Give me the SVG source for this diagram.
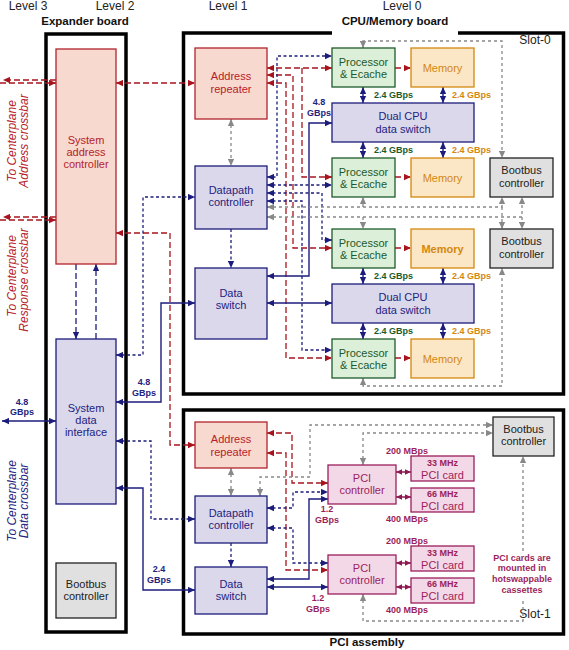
<svg xmlns="http://www.w3.org/2000/svg" width="569" height="650" viewBox="0 0 569 650">
<defs>
<style>
text{font-family:"Liberation Sans",Arial,Helvetica,sans-serif}
.lbl{font-size:11px;text-anchor:middle}
.ttl{font-size:11.5px;font-weight:bold;text-anchor:middle;fill:#111}
.hd{font-size:12px;text-anchor:middle;fill:#222}
.sm{font-size:9px;font-weight:bold;text-anchor:middle}
.sl{font-size:9px;font-weight:bold;text-anchor:start}
.rot{font-size:12px;font-style:italic;text-anchor:middle}
.board{fill:none;stroke:#000;stroke-width:3.5}
.ra{fill:#f8d9d0;stroke:#b0242c;stroke-width:1.3}
.nv{fill:#dcd8ec;stroke:#1c1c7c;stroke-width:1.3}
.gr{fill:#dcefd8;stroke:#1d5a2b;stroke-width:1.3}
.mem{fill:#fbe6c6;stroke:#d4880f;stroke-width:1.3}
.pci{fill:#f3d8e7;stroke:#9b1f5c;stroke-width:1.3}
.bb{fill:#e0e0e0;stroke:#222;stroke-width:1.3}
.tr{fill:#b5222b}.tn{fill:#23237f}.tg{fill:#1d5a2b}.to{fill:#d4880f}.tk{fill:#222}.tm{fill:#9b1f5c}
.cr{fill:none;stroke:#a8141e;stroke-width:1.3;stroke-dasharray:6 3}
.cnd{fill:none;stroke:#1c1c7c;stroke-width:1.3;stroke-dasharray:3 2.5}
.cnD{fill:none;stroke:#1c1c7c;stroke-width:1.3;stroke-dasharray:6 3}
.cn{fill:none;stroke:#1c1c7c;stroke-width:1.4}
.cg{fill:none;stroke:#888;stroke-width:1.3;stroke-dasharray:3 3}
.cm{fill:none;stroke:#8c1a52;stroke-width:1.5}
</style>
<marker id="aR" viewBox="0 0 10 10" refX="10" refY="5" markerWidth="7" markerHeight="7" markerUnits="userSpaceOnUse" orient="auto-start-reverse"><path d="M0,0.5L10,5L0,9.5z" fill="#a8141e"/></marker>
<marker id="aN" viewBox="0 0 10 10" refX="10" refY="5" markerWidth="7" markerHeight="7" markerUnits="userSpaceOnUse" orient="auto-start-reverse"><path d="M0,0.5L10,5L0,9.5z" fill="#1c1c7c"/></marker>
<marker id="aG" viewBox="0 0 10 10" refX="10" refY="5" markerWidth="7" markerHeight="7" markerUnits="userSpaceOnUse" orient="auto-start-reverse"><path d="M0,0.5L10,5L0,9.5z" fill="#888"/></marker>
<marker id="aM" viewBox="0 0 10 10" refX="10" refY="5" markerWidth="6" markerHeight="6" markerUnits="userSpaceOnUse" orient="auto-start-reverse"><path d="M0,0.5L10,5L0,9.5z" fill="#8c1a52"/></marker>
</defs>
<rect width="569" height="650" fill="#fff"/>

<g id="headers">
<text class="hd" x="28" y="9.5">Level 3</text>
<text class="hd" x="115" y="9.5">Level 2</text>
<text class="hd" x="228" y="9.5">Level 1</text>
<text class="hd" x="402" y="9.5">Level 0</text>
<text class="ttl" x="85" y="25">Expander board</text>
<text class="ttl" x="395" y="25">CPU/Memory board</text>
<text class="ttl" x="367" y="646">PCI assembly</text>
<text class="hd" x="535" y="43.5">Slot-0</text>
<text class="hd" x="535" y="617.5">Slot-1</text>
<text class="rot tr" transform="translate(16,141) rotate(-90)">To Centerplane</text>
<text class="rot tr" transform="translate(27.5,141) rotate(-90)">Address crossbar</text>
<text class="rot tr" transform="translate(16,276) rotate(-90)">To Centerplane</text>
<text class="rot tr" transform="translate(27.5,280) rotate(-90)">Response crossbar</text>
<text class="rot tn" transform="translate(16,501) rotate(-90)">To Centerplane</text>
<text class="rot tn" transform="translate(27.5,501) rotate(-90)">Data crossbar</text>
</g>

<g id="boards">
<rect class="board" x="46" y="34" width="80" height="598"/>
<path class="board" d="M332,33H183.5V394H563.5V33H458"/>
<rect class="board" x="183.5" y="410" width="380" height="224"/>
</g>

<g id="connectors">
<path class="cr" d="M56,80H3" marker-end="url(#aR)"/>
<path class="cr" d="M0,83H56" marker-end="url(#aR)"/>
<path class="cr" d="M56,217H3" marker-end="url(#aR)"/>
<path class="cr" d="M0,220H56" marker-end="url(#aR)"/>
<path class="cr" d="M116,83H195" marker-start="url(#aR)" marker-end="url(#aR)"/>
<path class="cr" d="M116,233H170V445H195" marker-start="url(#aR)" marker-end="url(#aR)"/>
<path class="cnD" d="M76,264V339" marker-end="url(#aN)"/>
<path class="cnD" d="M96,339V264" marker-end="url(#aN)"/>
<path class="cnd" d="M116,355H143V197H195" marker-start="url(#aN)" marker-end="url(#aN)"/>
<path class="cn" d="M116,402H161V303H195" marker-start="url(#aN)" marker-end="url(#aN)"/>
<path class="cn" d="M2,421H56" marker-start="url(#aN)" marker-end="url(#aN)"/>
<path class="cnd" d="M116,441H151V519H195" marker-start="url(#aN)" marker-end="url(#aN)"/>
<path class="cn" d="M116,488H143V590H195" marker-start="url(#aN)" marker-end="url(#aN)"/>

<path class="cg" d="M231,119V166" marker-start="url(#aG)" marker-end="url(#aG)"/>
<path class="cnd" d="M231,229V268" marker-end="url(#aN)"/>
<path class="cr" d="M267,68H332" marker-start="url(#aR)" marker-end="url(#aR)"/>
<path class="cr" d="M302,68V177H332" marker-end="url(#aR)"/>
<path class="cr" d="M267,75H293V248H332" marker-start="url(#aR)" marker-end="url(#aR)"/>
<path class="cr" d="M267,83H286V358H332" marker-start="url(#aR)" marker-end="url(#aR)"/>
<path class="cnd" d="M267,177H277V56H332" marker-start="url(#aN)" marker-end="url(#aN)"/>
<path class="cnd" d="M267,185H332" marker-start="url(#aN)" marker-end="url(#aN)"/>
<path class="cnd" d="M267,193H322V240H332" marker-start="url(#aN)" marker-end="url(#aN)"/>
<path class="cnd" d="M267,201H302V350H332" marker-start="url(#aN)" marker-end="url(#aN)"/>
<path class="cn" d="M267,276H309V123H332" marker-start="url(#aN)" marker-end="url(#aN)"/>
<path class="cn" d="M267,303H332" marker-start="url(#aN)" marker-end="url(#aN)"/>
<path class="cg" d="M363,48V41H502V158" marker-start="url(#aG)" marker-end="url(#aG)"/>
<path class="cg" d="M267,207H502V197" marker-start="url(#aG)" marker-end="url(#aG)"/>
<path class="cg" d="M363,207V197" marker-end="url(#aG)"/>
<path class="cg" d="M502,207V229" marker-end="url(#aG)"/>
<path class="cg" d="M267,217H522V197" marker-start="url(#aG)" marker-end="url(#aG)"/>
<path class="cg" d="M522,217V229" marker-end="url(#aG)"/>
<path class="cg" d="M363,217V229" marker-end="url(#aG)"/>
<path class="cg" d="M363,378V386H502V268" marker-start="url(#aG)" marker-end="url(#aG)"/>
<path class="cr" d="M395,68H411" marker-end="url(#aR)"/>
<path class="cr" d="M395,177H411" marker-end="url(#aR)"/>
<path class="cr" d="M395,248H411" marker-end="url(#aR)"/>
<path class="cr" d="M395,358H411" marker-end="url(#aR)"/>
<path class="cn" d="M363,87V103" marker-start="url(#aN)" marker-end="url(#aN)"/>
<path class="cn" d="M363,142V158" marker-start="url(#aN)" marker-end="url(#aN)"/>
<path class="cn" d="M363,268V284" marker-start="url(#aN)" marker-end="url(#aN)"/>
<path class="cn" d="M363,323V339" marker-start="url(#aN)" marker-end="url(#aN)"/>
<path class="cn" d="M443,87V103" marker-start="url(#aN)" marker-end="url(#aN)"/>
<path class="cn" d="M443,142V158" marker-start="url(#aN)" marker-end="url(#aN)"/>
<path class="cn" d="M443,268V284" marker-start="url(#aN)" marker-end="url(#aN)"/>
<path class="cn" d="M443,323V339" marker-start="url(#aN)" marker-end="url(#aN)"/>

<path class="cg" d="M231,468V496" marker-start="url(#aG)" marker-end="url(#aG)"/>
<path class="cnd" d="M231,543V567" marker-end="url(#aN)"/>
<path class="cr" d="M267,433H292V483H328" marker-start="url(#aR)" marker-end="url(#aR)"/>
<path class="cr" d="M267,453H286V570H328" marker-start="url(#aR)" marker-end="url(#aR)"/>
<path class="cnd" d="M267,508H293V492H328" marker-start="url(#aN)" marker-end="url(#aN)"/>
<path class="cnd" d="M267,528H293V563H328" marker-start="url(#aN)" marker-end="url(#aN)"/>
<path class="cn" d="M267,579H309V499H328" marker-start="url(#aN)" marker-end="url(#aN)"/>
<path class="cn" d="M267,587H328" marker-start="url(#aN)" marker-end="url(#aN)"/>
<path class="cg" d="M260,496V477H310V425H493" marker-start="url(#aG)" marker-end="url(#aG)"/>
<path class="cg" d="M363,465V433H493" marker-start="url(#aG)" marker-end="url(#aG)"/>
<path class="cg" d="M363,594V621H523V598M523,551V456" marker-start="url(#aG)" marker-end="url(#aG)"/>
<path class="cm" d="M396,472H411" marker-start="url(#aM)" marker-end="url(#aM)"/>
<path class="cm" d="M396,497H411" marker-start="url(#aM)" marker-end="url(#aM)"/>
<path class="cm" d="M396,563H411" marker-start="url(#aM)" marker-end="url(#aM)"/>
<path class="cm" d="M396,587H411" marker-start="url(#aM)" marker-end="url(#aM)"/>
</g>

<g id="labels">
<text class="sm tn" x="22" y="404.5">4.8</text><text class="sm tn" x="22" y="415">GBps</text>
<text class="sm tn" x="144" y="385">4.8</text><text class="sm tn" x="144" y="395.5">GBps</text>
<text class="sm tn" x="319" y="105">4.8</text><text class="sm tn" x="319" y="115.5">GBps</text>
<text class="sm tn" x="159" y="571.5">2.4</text><text class="sm tn" x="159" y="582.5">GBps</text>
<text class="sl tg" x="374" y="98">2.4 GBps</text><text class="sl to" x="452" y="98">2.4 GBps</text>
<text class="sl tg" x="374" y="153">2.4 GBps</text><text class="sl to" x="452" y="153">2.4 GBps</text>
<text class="sl tg" x="374" y="278.5">2.4 GBps</text><text class="sl to" x="452" y="278.5">2.4 GBps</text>
<text class="sl tg" x="374" y="333.5">2.4 GBps</text><text class="sl to" x="452" y="333.5">2.4 GBps</text>
<text class="sm tm" x="327" y="511.5">1.2</text><text class="sm tm" x="327" y="522.5">GBps</text>
<text class="sm tm" x="318" y="600.5">1.2</text><text class="sm tm" x="318" y="611.5">GBps</text>
<text class="sm tm" x="407" y="453.5">200 MBps</text>
<text class="sm tm" x="407" y="522">400 MBps</text>
<text class="sm tm" x="407" y="544">200 MBps</text>
<text class="sm tm" x="407" y="612.5">400 MBps</text>
<text class="sm tm" x="522" y="560.5">PCI cards are</text>
<text class="sm tm" x="522" y="571.3">mounted in</text>
<text class="sm tm" x="522" y="582.1">hotswappable</text>
<text class="sm tm" x="522" y="592.9">cassettes</text>
</g>

<g id="sys-address-controller"><rect class="ra" x="56" y="49" width="60" height="215"/>
<text class="lbl tr" x="86" y="143.6">System</text><text class="lbl tr" x="86" y="156">address</text><text class="lbl tr" x="86" y="168.4">controller</text></g>
<g id="sys-data-interface"><rect class="nv" x="56" y="339" width="60" height="165"/>
<text class="lbl tn" x="86" y="411.6">System</text><text class="lbl tn" x="86" y="424">data</text><text class="lbl tn" x="86" y="436.4">interface</text></g>
<g id="exp-bootbus"><rect class="bb" x="56" y="563" width="60" height="55"/>
<text class="lbl tk" x="86" y="587.8">Bootbus</text><text class="lbl tk" x="86" y="600.2">controller</text></g>

<g id="cpu-address-repeater"><rect class="ra" x="195" y="48" width="72" height="71"/>
<text class="lbl tr" x="231" y="80.3">Address</text><text class="lbl tr" x="231" y="92.7">repeater</text></g>
<g id="cpu-datapath-controller"><rect class="nv" x="195" y="166" width="72" height="63"/>
<text class="lbl tn" x="231" y="193.8">Datapath</text><text class="lbl tn" x="231" y="206.2">controller</text></g>
<g id="cpu-data-switch"><rect class="nv" x="195" y="268" width="72" height="71"/>
<text class="lbl tn" x="231" y="296.8">Data</text><text class="lbl tn" x="231" y="309.2">switch</text></g>
<g id="proc1"><rect class="gr" x="332" y="48" width="63" height="39"/>
<text class="lbl tg" x="363.5" y="65.6">Processor</text><text class="lbl tg" x="363.5" y="78">&amp; Ecache</text></g>
<g id="proc2"><rect class="gr" x="332" y="158" width="63" height="39"/>
<text class="lbl tg" x="363.5" y="175.6">Processor</text><text class="lbl tg" x="363.5" y="188">&amp; Ecache</text></g>
<g id="proc3"><rect class="gr" x="332" y="229" width="63" height="39"/>
<text class="lbl tg" x="363.5" y="246.6">Processor</text><text class="lbl tg" x="363.5" y="259">&amp; Ecache</text></g>
<g id="proc4"><rect class="gr" x="332" y="339" width="63" height="39"/>
<text class="lbl tg" x="363.5" y="356.6">Processor</text><text class="lbl tg" x="363.5" y="369">&amp; Ecache</text></g>
<g id="mem1"><rect class="mem" x="411" y="48" width="63" height="39"/><text class="lbl to" x="442.5" y="71.5" font-size="12">Memory</text></g>
<g id="mem2"><rect class="mem" x="411" y="158" width="63" height="39"/><text class="lbl to" x="442.5" y="181.5" font-size="12">Memory</text></g>
<g id="mem3"><rect class="mem" x="411" y="229" width="63" height="39"/><text class="lbl to" x="442.5" y="252.5" font-size="12" font-weight="bold">Memory</text></g>
<g id="mem4"><rect class="mem" x="411" y="339" width="63" height="39"/><text class="lbl to" x="442.5" y="362.5" font-size="12">Memory</text></g>
<g id="dual-switch1"><rect class="nv" x="332" y="103" width="142" height="39"/>
<text class="lbl tn" x="403" y="120.2" font-size="12">Dual CPU</text><text class="lbl tn" x="403" y="133.2" font-size="12">data switch</text></g>
<g id="dual-switch2"><rect class="nv" x="332" y="284" width="142" height="39"/>
<text class="lbl tn" x="403" y="301.2" font-size="12">Dual CPU</text><text class="lbl tn" x="403" y="314.2" font-size="12">data switch</text></g>
<g id="cpu-bootbus1"><rect class="bb" x="490" y="158" width="63" height="39"/>
<text class="lbl tk" x="521.5" y="174.3">Bootbus</text><text class="lbl tk" x="521.5" y="186.7">controller</text></g>
<g id="cpu-bootbus2"><rect class="bb" x="490" y="229" width="63" height="39"/>
<text class="lbl tk" x="521.5" y="245.3">Bootbus</text><text class="lbl tk" x="521.5" y="257.7">controller</text></g>

<g id="pci-address-repeater"><rect class="ra" x="195" y="422" width="72" height="46"/>
<text class="lbl tr" x="231" y="443.3">Address</text><text class="lbl tr" x="231" y="455.7">repeater</text></g>
<g id="pci-datapath-controller"><rect class="nv" x="195" y="496" width="72" height="47"/>
<text class="lbl tn" x="231" y="516.6">Datapath</text><text class="lbl tn" x="231" y="529">controller</text></g>
<g id="pci-data-switch"><rect class="nv" x="195" y="567" width="72" height="47"/>
<text class="lbl tn" x="231" y="587.8">Data</text><text class="lbl tn" x="231" y="600.2">switch</text></g>
<g id="pci-controller1"><rect class="pci" x="328" y="465" width="68" height="39"/>
<text class="lbl tm" x="362" y="482">PCI</text><text class="lbl tm" x="362" y="494.4">controller</text></g>
<g id="pci-controller2"><rect class="pci" x="328" y="555" width="68" height="39"/>
<text class="lbl tm" x="362" y="571.6">PCI</text><text class="lbl tm" x="362" y="584">controller</text></g>
<g id="pci-card1"><rect class="pci" x="411" y="456" width="63" height="25"/>
<text class="sm tm" x="442.5" y="465.5">33 MHz</text><text class="lbl tm" x="442.5" y="478.5" font-size="11.5">PCI card</text></g>
<g id="pci-card2"><rect class="pci" x="411" y="488" width="63" height="24"/>
<text class="sm tm" x="442.5" y="496.5">66 MHz</text><text class="lbl tm" x="442.5" y="509.8" font-size="11.5">PCI card</text></g>
<g id="pci-card3"><rect class="pci" x="411" y="546" width="63" height="25"/>
<text class="sm tm" x="442.5" y="555.5">33 MHz</text><text class="lbl tm" x="442.5" y="568.5" font-size="11.5">PCI card</text></g>
<g id="pci-card4"><rect class="pci" x="411" y="578" width="63" height="25"/>
<text class="sm tm" x="442.5" y="587">66 MHz</text><text class="lbl tm" x="442.5" y="600.3" font-size="11.5">PCI card</text></g>
<g id="pci-bootbus"><rect class="bb" x="493" y="417" width="61" height="39"/>
<text class="lbl tk" x="523.5" y="433">Bootbus</text><text class="lbl tk" x="523.5" y="445.4">controller</text></g>
</svg>
